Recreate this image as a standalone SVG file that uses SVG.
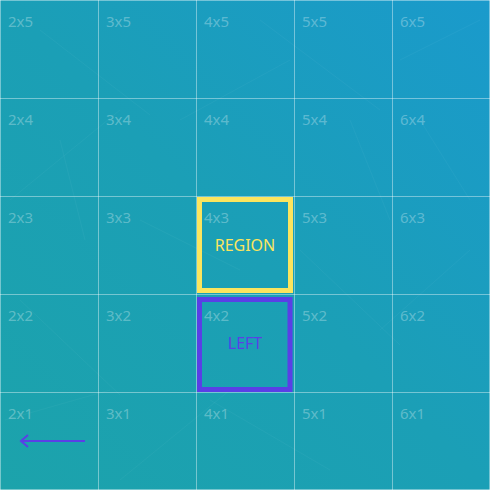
<svg xmlns="http://www.w3.org/2000/svg" width="490" height="490" viewBox="0 0 490 490">
<defs>
<linearGradient id="bg" x1="0" y1="1" x2="1" y2="0">
<stop offset="0" stop-color="#1ca3ab"/>
<stop offset="0.5" stop-color="#1b9fb6"/>
<stop offset="1" stop-color="#1a9acc"/>
</linearGradient>
<marker id="chev" viewBox="0 0 10 14" refX="8" refY="7" markerWidth="10" markerHeight="14" markerUnits="userSpaceOnUse" orient="auto">
<path d="M1,1 L8,7 L1,13" fill="none" stroke="#5a3fe6" stroke-width="2"/>
</marker>
<style>
.grid line{stroke:#ffffff;stroke-opacity:0.4;stroke-width:1}
.lbl{font-family:"Noto Sans","Open Sans",sans-serif;font-size:15px;fill:#ffffff;fill-opacity:0.3}
.scratch line{stroke:#ffffff;stroke-opacity:0.035;stroke-width:1}
.name{font-family:"Noto Sans","Open Sans",sans-serif;font-size:16px;text-anchor:middle}
</style>
</defs>
<rect width="490" height="490" fill="url(#bg)"/>
<g class="scratch">
<line x1="10" y1="200" x2="120" y2="110"/><line x1="40" y1="30" x2="150" y2="115"/><line x1="120" y1="480" x2="230" y2="390"/>
<line x1="260" y1="20" x2="380" y2="110"/><line x1="300" y1="250" x2="400" y2="345"/><line x1="20" y1="300" x2="120" y2="395"/>
<line x1="180" y1="120" x2="290" y2="60"/><line x1="350" y1="120" x2="390" y2="220"/><line x1="60" y1="140" x2="85" y2="240"/>
<line x1="210" y1="400" x2="330" y2="470"/><line x1="380" y1="330" x2="470" y2="250"/><line x1="5" y1="420" x2="110" y2="390"/>
<line x1="420" y1="120" x2="470" y2="200"/><line x1="400" y1="60" x2="480" y2="20"/><line x1="140" y1="220" x2="240" y2="270"/>
</g>
<g class="grid">
<line x1="0.5" y1="0" x2="0.5" y2="490"/><line x1="98.5" y1="0" x2="98.5" y2="490"/><line x1="196.5" y1="0" x2="196.5" y2="490"/><line x1="294.5" y1="0" x2="294.5" y2="490"/><line x1="392.5" y1="0" x2="392.5" y2="490"/><line x1="489.5" y1="0" x2="489.5" y2="490"/>
<line x1="0" y1="0.5" x2="490" y2="0.5"/><line x1="0" y1="98.5" x2="490" y2="98.5"/><line x1="0" y1="196.5" x2="490" y2="196.5"/><line x1="0" y1="294.5" x2="490" y2="294.5"/><line x1="0" y1="392.5" x2="490" y2="392.5"/><line x1="0" y1="489.5" x2="490" y2="489.5"/>
</g>
<g id="cell-labels">
<text class="lbl" x="8" y="27">2x5</text><text class="lbl" x="106" y="27">3x5</text><text class="lbl" x="204" y="27">4x5</text><text class="lbl" x="302" y="27">5x5</text><text class="lbl" x="400" y="27">6x5</text>
<text class="lbl" x="8" y="125">2x4</text><text class="lbl" x="106" y="125">3x4</text><text class="lbl" x="204" y="125">4x4</text><text class="lbl" x="302" y="125">5x4</text><text class="lbl" x="400" y="125">6x4</text>
<text class="lbl" x="8" y="223">2x3</text><text class="lbl" x="106" y="223">3x3</text><text class="lbl" x="204" y="223">4x3</text><text class="lbl" x="302" y="223">5x3</text><text class="lbl" x="400" y="223">6x3</text>
<text class="lbl" x="8" y="321">2x2</text><text class="lbl" x="106" y="321">3x2</text><text class="lbl" x="204" y="321">4x2</text><text class="lbl" x="302" y="321">5x2</text><text class="lbl" x="400" y="321">6x2</text>
<text class="lbl" x="8" y="419">2x1</text><text class="lbl" x="106" y="419">3x1</text><text class="lbl" x="204" y="419">4x1</text><text class="lbl" x="302" y="419">5x1</text><text class="lbl" x="400" y="419">6x1</text>
</g>
<g id="region">
<rect x="199.5" y="199.5" width="91" height="91" fill="none" stroke="#fbe55e" stroke-width="5"/>
<text class="name" x="245" y="251" fill="#fbe55e">REGION</text>
</g>
<g id="left">
<rect x="199.5" y="299.5" width="90.5" height="90" fill="none" stroke="#5a3fe6" stroke-width="5"/>
<text class="name" x="245" y="349" fill="#5a3fe6">LEFT</text>
</g>
<g id="connectors">
<line x1="85" y1="441" x2="21" y2="441" stroke="#5a3fe6" stroke-width="2" marker-end="url(#chev)"/>
</g>
</svg>
